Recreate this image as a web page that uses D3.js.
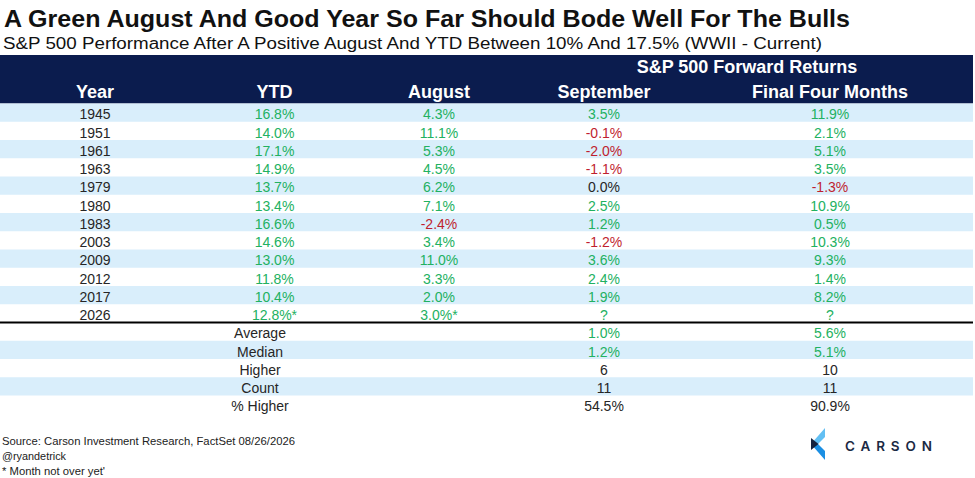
<!DOCTYPE html>
<html>
<head>
<meta charset="utf-8">
<script src="https://cdn.jsdelivr.net/npm/d3@7"></script>
<style>
  body { margin: 0; background: #fff; }
  svg { display: block; }
  text { font-family: "Liberation Sans", Arial, sans-serif; }
</style>
</head>
<body>
<script>
// table data
var years = ['1945', '1951', '1961', '1963', '1979', '1980', '1983', '2003', '2009', '2012', '2017'];
var ytd = [16.8, 14.0, 17.1, 14.9, 13.7, 13.4, 16.6, 14.6, 13.0, 11.8, 10.4];
var august = [4.3, 11.1, 5.3, 4.5, 6.2, 7.1, -2.4, 3.4, 11.0, 3.3, 2.0];
var september = [3.5, -0.1, -2.0, -1.1, 0.0, 2.5, 1.2, -1.2, 3.6, 2.4, 1.9];
var finalFour = [11.9, 2.1, 5.1, 3.5, -1.3, 10.9, 0.5, 10.3, 9.3, 1.4, 8.2];

// current year, month not over yet
var currentYear = '2026';
var currentYtd = 12.8;
var currentAugust = 3.0;

// summary rows
var statLabels = ['Average', 'Median', 'Higher', 'Count', '% Higher'];
var statSeptember = [1.0, 1.2, 6, 11, 54.5];
var statFinalFour = [5.6, 5.1, 10, 11, 90.9];

var width = 975,
	height = 478;

var navy = '#0b1c4e',
	stripe = '#d9eefb',
	green = '#22b161',
	red = '#bf1f2f',
	ink = '#262626';

// d3.format gives a unicode minus, the sheet uses a plain hyphen
var fmt1 = d3.format('.1f');
var pct = function(v) { return fmt1(v).replace('\u2212', '-'); };

var svg = d3.select('body').append('svg')
	.attr('width', width)
	.attr('height', height);

// columns and rows
var cols = ['year', 'ytd', 'august', 'september', 'final'];
var xCol = d3.scaleOrdinal().domain(cols).range([95, 274.5, 439, 604, 830]);
var nRows = years.length + 1 + statLabels.length;
var yRow = d3.scaleBand().domain(d3.range(nRows)).range([103.5, 103.5 + nRows * 18.25]);

function signColor(v) {
	return v > 0 ? green : (v < 0 ? red : ink);
}

// build the rows of cells
var rows = years.map(function(y, i) {
	return [
		{col: 'year', text: y, color: ink},
		{col: 'ytd', text: pct(ytd[i]) + '%', color: signColor(ytd[i])},
		{col: 'august', text: pct(august[i]) + '%', color: signColor(august[i])},
		{col: 'september', text: pct(september[i]) + '%', color: signColor(september[i])},
		{col: 'final', text: pct(finalFour[i]) + '%', color: signColor(finalFour[i])}
	];
});
rows.push([
	{col: 'year', text: currentYear, color: ink},
	{col: 'ytd', text: pct(currentYtd) + '%*', color: signColor(currentYtd)},
	{col: 'august', text: pct(currentAugust) + '%*', color: signColor(currentAugust)},
	{col: 'september', text: '?', color: green},
	{col: 'final', text: '?', color: green}
]);
statLabels.forEach(function(s, i) {
	var isPct = (s === 'Average' || s === 'Median');
	var fmt = function(v) {
		if (s === '% Higher') return pct(v) + '%';
		return isPct ? pct(v) + '%' : String(v);
	};
	rows.push([
		{col: 'label', text: s, color: ink},
		{col: 'september', text: fmt(statSeptember[i]), color: isPct ? signColor(statSeptember[i]) : ink},
		{col: 'final', text: fmt(statFinalFour[i]), color: isPct ? signColor(statFinalFour[i]) : ink}
	]);
});

// title and subtitle
svg.append('text')
	.attr('x', 4).attr('y', 27)
	.attr('textLength', 846).attr('lengthAdjust', 'spacingAndGlyphs')
	.style('font-size', '24px').style('font-weight', 'bold').style('fill', '#111')
	.text('A Green August And Good Year So Far Should Bode Well For The Bulls');

svg.append('text')
	.attr('x', 3).attr('y', 49)
	.attr('textLength', 819).attr('lengthAdjust', 'spacingAndGlyphs')
	.style('font-size', '16px').style('fill', '#111')
	.text('S&P 500 Performance After A Positive August And YTD Between 10% And 17.5% (WWII - Current)');

// header block
svg.append('rect')
	.attr('x', 0).attr('y', 55)
	.attr('width', 973).attr('height', yRow(0) - 55)
	.attr('fill', navy);

var head = svg.append('g')
	.style('fill', '#fff').style('font-weight', 'bold').style('font-size', '18px')
	.attr('text-anchor', 'middle');

head.append('text').attr('x', 747).attr('y', 73).text('S&P 500 Forward Returns');
head.selectAll('.colhead')
	.data([['year', 'Year'], ['ytd', 'YTD'], ['august', 'August'], ['september', 'September'], ['final', 'Final Four Months']])
	.enter().append('text')
	.attr('class', 'colhead')
	.attr('x', function(d) { return xCol(d[0]); })
	.attr('y', 97.5)
	.text(function(d) { return d[1]; });

// zebra stripes: 1945 striped, then alternating; summary restarts with white
var stripeRows = d3.range(nRows).filter(function(i) {
	return i < years.length + 1 ? i % 2 === 0 : (i - years.length - 1) % 2 === 1;
});
svg.selectAll('.stripe')
	.data(stripeRows)
	.enter().append('rect')
	.attr('class', 'stripe')
	.attr('x', 0)
	.attr('y', function(i) { return yRow(i); })
	.attr('width', 973)
	.attr('height', yRow.bandwidth())
	.attr('fill', stripe);

// divider between years and summary
svg.append('line')
	.attr('x1', 0).attr('x2', 973)
	.attr('y1', yRow(years.length + 1)).attr('y2', yRow(years.length + 1))
	.attr('stroke', '#000').attr('stroke-width', 1.8);

// cell text
var rowG = svg.selectAll('.row')
	.data(rows)
	.enter().append('g')
	.attr('class', 'row')
	.attr('transform', function(d, i) { return 'translate(0,' + (yRow(i) + 15.8) + ')'; });

rowG.selectAll('text')
	.data(function(d) { return d; })
	.enter().append('text')
	.attr('x', function(d) { return d.col === 'label' ? 260 : xCol(d.col); })
	.attr('text-anchor', 'middle')
	.style('font-size', '14px')
	.style('fill', function(d) { return d.color; })
	.text(function(d) { return d.text; });

// footer notes
var notes = [
	['Source: Carson Investment Research, FactSet 08/26/2026', 293],
	['@ryandetrick', 64],
	['* Month not over yet\'', 103]
];
svg.selectAll('.note')
	.data(notes)
	.enter().append('text')
	.attr('class', 'note')
	.attr('x', 2)
	.attr('y', function(d, i) { return 445 + i * 14.8; })
	.attr('textLength', function(d) { return d[1]; })
	.attr('lengthAdjust', 'spacingAndGlyphs')
	.style('font-size', '11.5px')
	.style('fill', '#222')
	.text(function(d) { return d[0]; });

// carson logo
var logo = svg.append('g');
logo.append('polygon')
	.attr('points', '811,444 825,428 825,437 818,444')
	.attr('fill', '#62bff3');
logo.append('polygon')
	.attr('points', '811,444 818,444 825,451 825,460')
	.attr('fill', '#1b8fe3');
logo.append('polygon')
	.attr('points', '811,438 818.5,444 811,450')
	.attr('fill', '#15223f');
logo.append('text')
	.attr('x', 845).attr('y', 450.5)
	.attr('textLength', 87).attr('lengthAdjust', 'spacing')
	.style('font-family', 'Inter, "Liberation Sans", sans-serif')
	.style('font-size', '13.5px').style('font-weight', 600)
	.style('fill', '#1b2a44')
	.text('CARSON');
</script>
</body>
</html>
